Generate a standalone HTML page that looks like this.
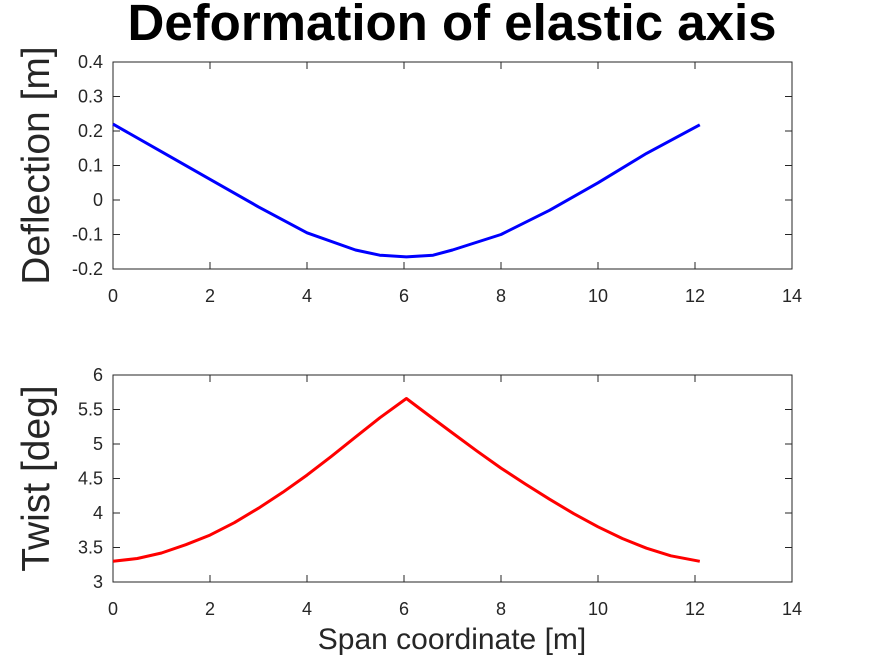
<!DOCTYPE html>
<html><head><meta charset="utf-8"><style>
body{margin:0;background:#fff}
svg{display:block;font-family:"Liberation Sans",sans-serif}
</style></head><body>
<svg id="c" width="875" height="656">
<text x="452" y="40" text-anchor="middle" font-size="51" font-weight="bold">Deformation of elastic axis</text>
<g id="g1"></g>
<g id="g2"></g>
<text x="452" y="649" text-anchor="middle" font-size="30" fill="#262626">Span coordinate [m]</text>
</svg>
<script>
const xDef=[0,1,2,3,4,5,5.5,6.05,6.6,7,8,9,10,11,12.1];
const yDef=[0.22,0.14,0.06,-0.02,-0.095,-0.145,-0.16,-0.165,-0.16,-0.145,-0.1,-0.03,0.05,0.135,0.218];
const xTw=[0,0.5,1,1.5,2,2.5,3,3.5,4,4.5,5,5.5,6.05,6.5,7,7.5,8,8.5,9,9.5,10,10.5,11,11.5,12.1];
const yTw=[3.3,3.34,3.42,3.54,3.68,3.86,4.07,4.3,4.55,4.82,5.1,5.38,5.66,5.42,5.16,4.9,4.65,4.42,4.2,3.99,3.8,3.63,3.49,3.38,3.3];
const xTicks=[0,2,4,6,8,10,12,14];
const yTicksDef=[-0.2,-0.1,0,0.1,0.2,0.3,0.4];
const yTickLabelsDef=["-0.2","-0.1","0","0.1","0.2","0.3","0.4"];
const yTicksTw=[3,3.5,4,4.5,5,5.5,6];
const yTickLabelsTw=["3","3.5","4","4.5","5","5.5","6"];
const NS="http://www.w3.org/2000/svg";
function mk(p,t,a){const e=document.createElementNS(NS,t);for(const k in a)e.setAttribute(k,a[k]);p.appendChild(e);return e;}
function plot(g,top,bot,ymin,ymax,yt,ytl,xs,ys,color,ylabel,nm){
 const L=113,R=792;
 const sx=v=>L+(v-0)/14*(R-L);
 const sy=v=>bot-(v-ymin)/(ymax-ymin)*(bot-top);
 const box=mk(g,'rect',{x:L,y:top,width:R-L,height:bot-top,fill:'none',stroke:'#262626','stroke-width':1});
 
 
 xTicks.forEach(v=>{
  const x=sx(v);
  mk(g,'line',{x1:x,y1:bot,x2:x,y2:bot-7,stroke:'#262626'});
  mk(g,'line',{x1:x,y1:top,x2:x,y2:top+7,stroke:'#262626'});
  const t=mk(g,'text',{x:x,y:bot+33,'text-anchor':'middle','font-size':18,fill:'#262626'});
  t.textContent=v;
  
  
 });
 yt.forEach((v,i)=>{
  const y=sy(v);
  mk(g,'line',{x1:L,y1:y,x2:L+7,y2:y,stroke:'#262626'});
  mk(g,'line',{x1:R,y1:y,x2:R-7,y2:y,stroke:'#262626'});
  const t=mk(g,'text',{x:L-10,y:y+6,'text-anchor':'end','font-size':18,fill:'#262626'});
  t.textContent=ytl[i];
  
  
 });
 const cy=(top+bot)/2;
 const yl=mk(g,'text',{x:0,y:0,transform:`translate(49,${cy}) rotate(-90)`,'text-anchor':'middle','font-size':39,fill:'#262626'});
 yl.textContent=ylabel;
 
 
 const pts=xs.map((x,i)=>sx(x).toFixed(1)+','+sy(ys[i]).toFixed(1)).join(' ');
 const pl=mk(g,'polyline',{points:pts,fill:'none',stroke:color,'stroke-width':3,'stroke-linejoin':'round'});
 
 
}
plot(document.getElementById('g1'),62,269,-0.2,0.4,yTicksDef,yTickLabelsDef,xDef,yDef,'#0000ff','Deflection [m]','deflection');
plot(document.getElementById('g2'),375,582,3,6,yTicksTw,yTickLabelsTw,xTw,yTw,'#ff0000','Twist [deg]','twist');
</script>
</body></html>
